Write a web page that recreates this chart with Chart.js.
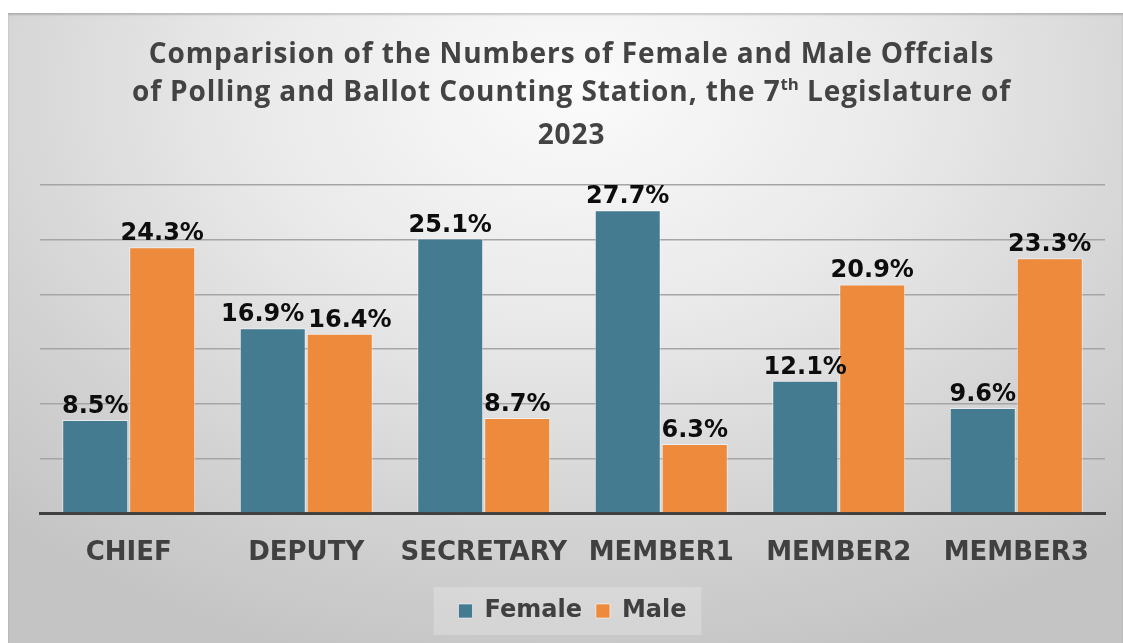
<!DOCTYPE html>
<html>
<head>
<meta charset="utf-8">
<script src="https://cdn.jsdelivr.net/npm/chart.js@4.4.1/dist/chart.umd.min.js"></script>
<style>
  html, body { margin: 0; padding: 0; background: #ffffff; }
  #panel {
    position: absolute;
    left: 8px;
    top: 13px;
    width: 1115px;
    height: 630px;
    background: radial-gradient(ellipse 75% 95% at 51% 12%, #fbfbfb 0%, #e9e9e9 40%, #d2d2d2 75%, #c4c4c4 100%);
    box-shadow: inset 0 2px 2px rgba(0, 0, 0, 0.18);
    overflow: hidden;
  }
  #title {
    position: absolute;
    left: 12px;
    right: 0;
    top: 20px;
    text-align: center;
    font-family: "Open Sans", sans-serif;
    font-weight: 700;
    font-size: 28px;
    letter-spacing: 0.9px;
    line-height: 38px;
    color: #434343;
  }
  #title sup {
    font-size: 0.6em;
    letter-spacing: 0;
    vertical-align: baseline;
    position: relative;
    top: -0.65em;
  }
</style>
</head>
<body>
<div id="panel">
  <canvas id="chart" width="1115" height="630"></canvas>
  <div id="title">Comparision of the Numbers of Female and Male Offcials<br>of Polling and Ballot Counting Station, the 7<sup>th</sup> Legislature of<br>2023</div>
</div>
<script>
// Data
const categories = ["CHIEF", "DEPUTY", "SECRETARY", "MEMBER1", "MEMBER2", "MEMBER3"];
const femaleValues = [8.5, 16.9, 25.1, 27.7, 12.1, 9.6];
const maleValues = [24.3, 16.4, 8.7, 6.3, 20.9, 23.3];

// Colors
const femaleColour = "#457b91";
const maleColour = "#ee8a3b";
const textColour = "#404040";

// Value labels above each bar, nudged apart when two collide
const barLabels = {
  id: "barLabels",
  afterDatasetsDraw(chart) {
    const ctx = chart.ctx;
    ctx.save();
    ctx.font = "bold 24px 'DejaVu Sans'";
    ctx.fillStyle = "#0d0d0d";
    ctx.textAlign = "center";
    ctx.textBaseline = "alphabetic";

    const metaF = chart.getDatasetMeta(0);
    const metaM = chart.getDatasetMeta(1);

    for (let i = 0; i < categories.length; i++) {
      const f = metaF.data[i];
      const m = metaM.data[i];
      const fText = femaleValues[i].toFixed(1) + "%";
      const mText = maleValues[i].toFixed(1) + "%";
      const fw = ctx.measureText(fText).width;
      const mw = ctx.measureText(mText).width;

      let fx = f.x;
      let mx = m.x;
      const fy = f.y - 7;
      const my = m.y - 7;

      // only shift if the labels sit at similar heights
      if (Math.abs(fy - my) < 26) {
        const overlap = (fx + fw / 2) - (mx - mw / 2) + 4;
        if (overlap > 0) {
          fx -= overlap / 2;
          mx += overlap / 2;
        }
      }

      ctx.fillText(fText, fx, fy);
      ctx.fillText(mText, mx, my);
    }
    ctx.restore();
  },
};

// Light box behind the legend
const legendBox = {
  id: "legendBox",
  beforeDraw(chart) {
    const boxes = chart.legend && chart.legend.legendHitBoxes;
    if (!boxes || boxes.length === 0) return;
    const first = boxes[0];
    const last = boxes[boxes.length - 1];
    const left = first.left - 25;
    const right = last.left + last.width + 15;
    const cy = first.top + first.height / 2;
    const ctx = chart.ctx;
    ctx.save();
    ctx.fillStyle = "rgba(255, 255, 255, 0.22)";
    ctx.fillRect(left, cy - 24, right - left, 48);
    ctx.restore();
  },
};

const myChart = new Chart(document.getElementById("chart"), {
  type: "bar",
  data: {
    labels: categories,
    datasets: [
      {
        label: "Female",
        data: femaleValues,
        backgroundColor: femaleColour,
        borderColor: "rgba(255, 255, 255, 0.55)",
        borderWidth: 1,
        barPercentage: 0.985,
        categoryPercentage: 0.755,
      },
      {
        label: "Male",
        data: maleValues,
        backgroundColor: maleColour,
        borderColor: "rgba(255, 255, 255, 0.55)",
        borderWidth: 1,
        barPercentage: 0.985,
        categoryPercentage: 0.755,
      },
    ],
  },
  options: {
    responsive: false,
    animation: false,
    layout: {
      padding: { top: 172, left: 32, right: 18, bottom: 10 },
    },
    scales: {
      x: {
        grid: { display: false },
        border: { display: true, color: "#404040", width: 3 },
        ticks: {
          color: textColour,
          font: { family: "DejaVu Sans", size: 26, weight: "bold", lineHeight: 1 },
          padding: 19,
        },
      },
      y: {
        min: 0,
        max: 30,
        ticks: { display: false, stepSize: 5 },
        border: { display: false },
        grid: { color: "#a5a5a5", lineWidth: 1.5, drawTicks: false },
      },
    },
    plugins: {
      title: { display: false },
      tooltip: { enabled: false },
      legend: {
        position: "bottom",
        labels: {
          color: textColour,
          font: { family: "DejaVu Sans", size: 24, weight: "bold" },
          boxWidth: 14,
          boxHeight: 14,
          padding: 14,
        },
      },
    },
  },
  plugins: [barLabels, legendBox],
});
</script>
</body>
</html>
